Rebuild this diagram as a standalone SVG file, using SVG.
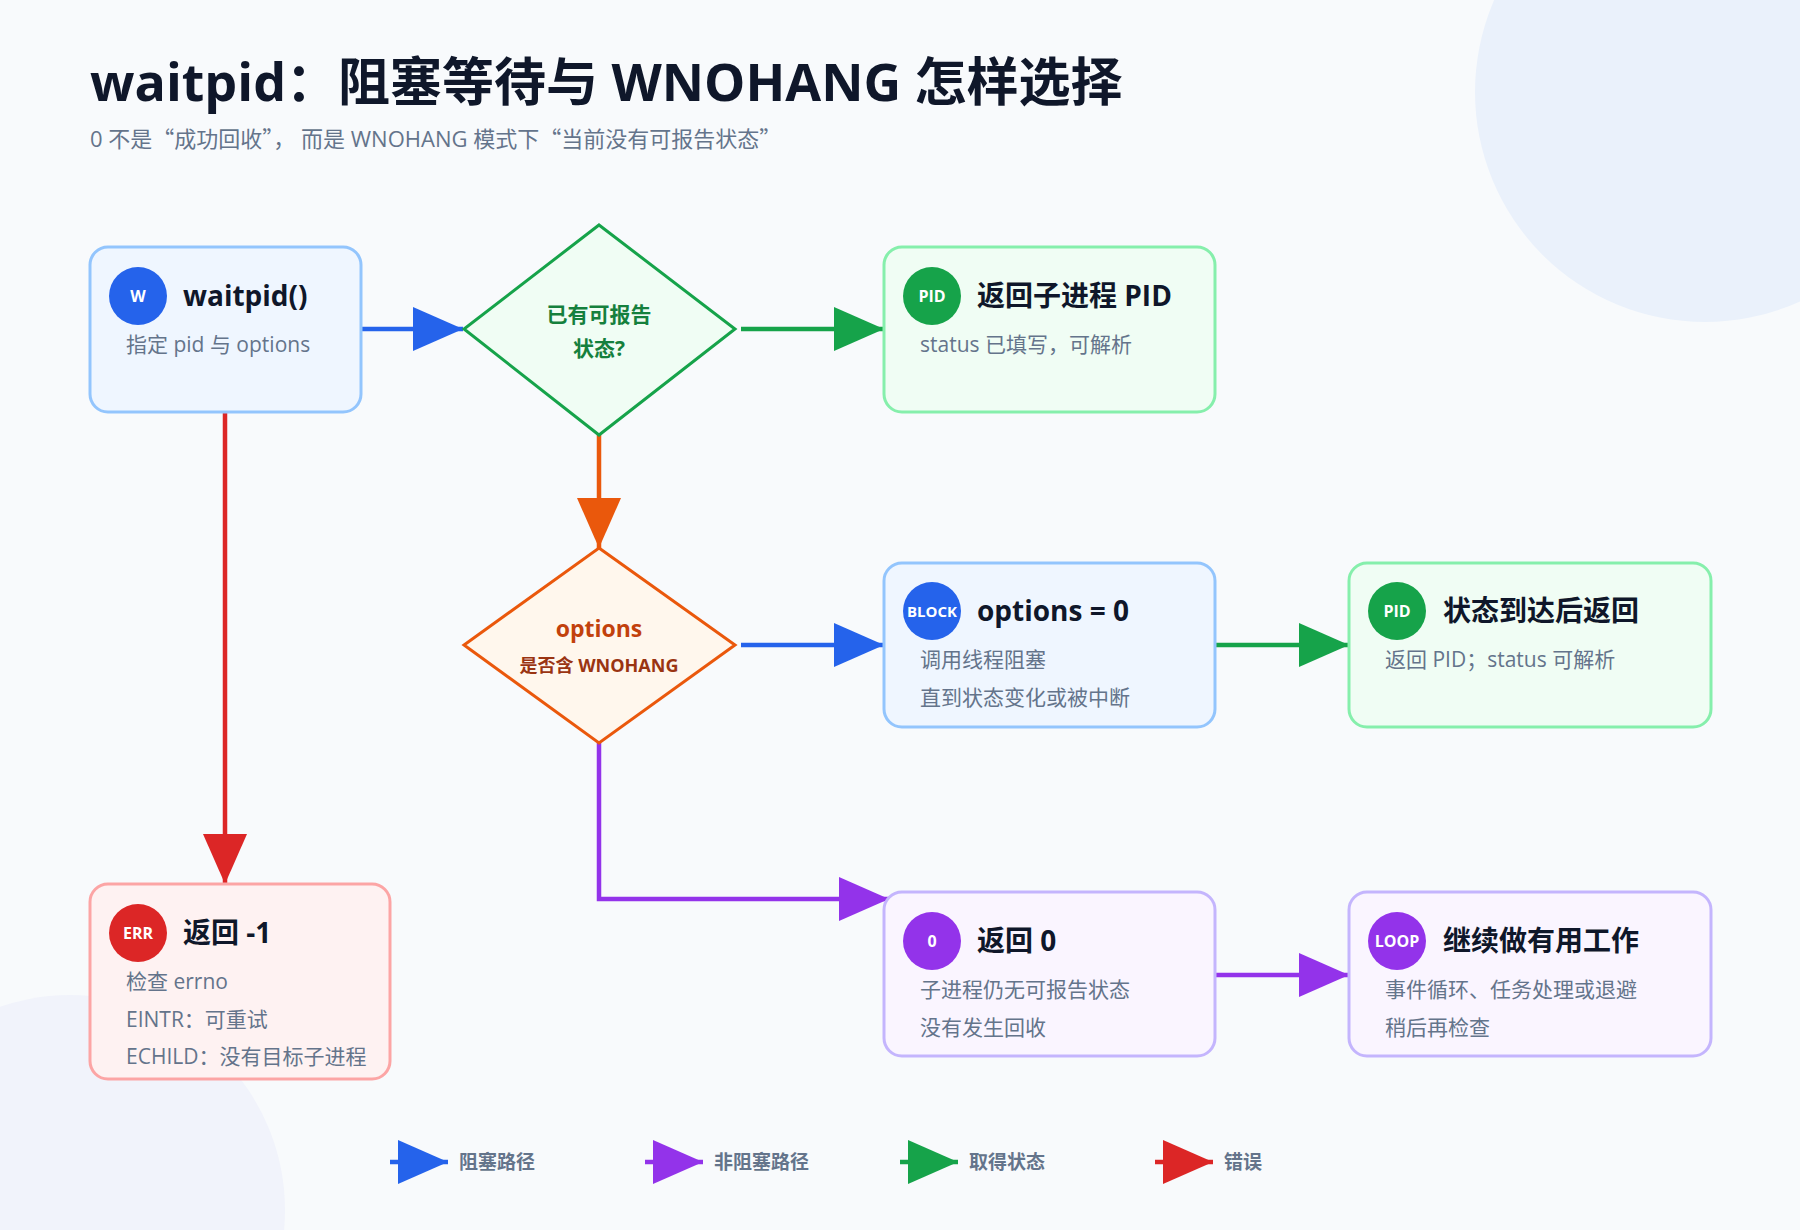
<svg xmlns="http://www.w3.org/2000/svg" width="1800" height="1230" viewBox="0 0 1800 1230">
<defs>
<style>
text{font-family:"Open Sans","Noto Sans CJK SC",sans-serif}
.cjk{font-family:"Noto Sans CJK SC",sans-serif}
.t{font-size:28px;font-weight:700;fill:#0f172a}
.s{font-size:21px;fill:#64748b}
.ic{font-size:16px;font-weight:700;fill:#fff;text-anchor:middle}
.lg{font-size:19px;font-weight:700;fill:#64748b}
.ln{fill:none;stroke-width:4.5}
</style>
<marker id="mb" markerUnits="userSpaceOnUse" markerWidth="52" markerHeight="46" refX="50" refY="23" orient="auto"><path d="M0,1 L50,23 L0,45 z" fill="#2563eb"/></marker>
<marker id="mg" markerUnits="userSpaceOnUse" markerWidth="52" markerHeight="46" refX="50" refY="23" orient="auto"><path d="M0,1 L50,23 L0,45 z" fill="#16a34a"/></marker>
<marker id="mp" markerUnits="userSpaceOnUse" markerWidth="52" markerHeight="46" refX="50" refY="23" orient="auto"><path d="M0,1 L50,23 L0,45 z" fill="#9333ea"/></marker>
<marker id="mr" markerUnits="userSpaceOnUse" markerWidth="52" markerHeight="46" refX="50" refY="23" orient="auto"><path d="M0,1 L50,23 L0,45 z" fill="#dc2626"/></marker>
<marker id="mo" markerUnits="userSpaceOnUse" markerWidth="52" markerHeight="46" refX="50" refY="23" orient="auto"><path d="M0,1 L50,23 L0,45 z" fill="#ea580c"/></marker>
</defs>
<rect width="1800" height="1230" fill="#f8fafc"/>
<circle cx="1705" cy="92" r="230" fill="#eaf1fb"/>
<circle cx="70" cy="1210" r="215" fill="#f1f3fb"/>
<text x="90" y="101" style="font-size:52px;font-weight:700;fill:#0f172a">waitpid：阻塞等待与 WNOHANG 怎样选择</text>
<text x="90" y="147" style="font-size:22px;fill:#64748b">0 不是<tspan class="cjk">“</tspan>成功回收<tspan class="cjk">”</tspan>， 而是 WNOHANG 模式下<tspan class="cjk">“</tspan>当前没有可报告状态<tspan class="cjk">”</tspan></text>

<g id="connectors">
<path class="ln" d="M361,329 H463" stroke="#2563eb" marker-end="url(#mb)"/>
<path class="ln" d="M741,329 H884" stroke="#16a34a" marker-end="url(#mg)"/>
<path class="ln" d="M599,435 V548" stroke="#ea580c" marker-end="url(#mo)"/>
<path class="ln" d="M741,645 H884" stroke="#2563eb" marker-end="url(#mb)"/>
<path class="ln" d="M1215,645 H1349" stroke="#16a34a" marker-end="url(#mg)"/>
<path class="ln" d="M599,743 V899 H889" stroke="#9333ea" marker-end="url(#mp)"/>
<path class="ln" d="M1215,975 H1349" stroke="#9333ea" marker-end="url(#mp)"/>
<path class="ln" d="M225,412 V884" stroke="#dc2626" marker-end="url(#mr)"/>
</g>

<g id="n-waitpid">
<rect x="90" y="247" width="271" height="165" rx="18" fill="#eff6ff" stroke="#93c5fd" stroke-width="3"/>
<circle cx="138" cy="296" r="29" fill="#2563eb"/><text x="138" y="302" class="ic">W</text>
<text x="183" y="306" class="t">waitpid()</text>
<text x="126" y="352" class="s">指定 pid 与 options</text>
</g>
<g id="d-has">
<path d="M599,225 L735,329 L599,435 L464,329 Z" fill="#f0fdf4" stroke="#16a34a" stroke-width="3"/>
<text x="599" y="322" text-anchor="middle" style="font-size:21px;font-weight:700;fill:#15803d">已有可报告</text>
<text x="599" y="356" text-anchor="middle" style="font-size:21px;font-weight:700;fill:#15803d">状态?</text>
</g>
<g id="n-pid">
<rect x="884" y="247" width="331" height="165" rx="18" fill="#f0fdf4" stroke="#86efac" stroke-width="3"/>
<circle cx="932" cy="296" r="29" fill="#16a34a"/><text x="932" y="302" class="ic">PID</text>
<text x="977" y="306" class="t">返回子进程 PID</text>
<text x="920" y="352" class="s">status 已填写，可解析</text>
</g>
<g id="d-opt">
<path d="M599,548 L735,645 L599,743 L464,645 Z" fill="#fff7ed" stroke="#ea580c" stroke-width="3"/>
<text x="599" y="637" text-anchor="middle" style="font-size:23px;font-weight:700;fill:#c2410c">options</text>
<text x="599" y="672" text-anchor="middle" style="font-size:18px;font-weight:700;fill:#9a3412">是否含 WNOHANG</text>
</g>
<g id="n-block">
<rect x="884" y="563" width="331" height="164" rx="18" fill="#eff6ff" stroke="#93c5fd" stroke-width="3"/>
<circle cx="932" cy="611" r="29" fill="#2563eb"/><text x="932" y="617" class="ic" style="font-size:15px">BLOCK</text>
<text x="977" y="621" class="t">options = 0</text>
<text x="920" y="667" class="s">调用线程阻塞</text>
<text x="920" y="705" class="s">直到状态变化或被中断</text>
</g>
<g id="n-pid2">
<rect x="1349" y="563" width="362" height="164" rx="18" fill="#f0fdf4" stroke="#86efac" stroke-width="3"/>
<circle cx="1397" cy="611" r="29" fill="#16a34a"/><text x="1397" y="617" class="ic">PID</text>
<text x="1443" y="621" class="t">状态到达后返回</text>
<text x="1385" y="667" class="s">返回 PID；status 可解析</text>
</g>
<g id="n-zero">
<rect x="884" y="892" width="331" height="164" rx="18" fill="#faf5ff" stroke="#c4b5fd" stroke-width="3"/>
<circle cx="932" cy="941" r="29" fill="#9333ea"/><text x="932" y="947" class="ic">0</text>
<text x="977" y="951" class="t">返回 0</text>
<text x="920" y="997" class="s">子进程仍无可报告状态</text>
<text x="920" y="1035" class="s">没有发生回收</text>
</g>
<g id="n-loop">
<rect x="1349" y="892" width="362" height="164" rx="18" fill="#faf5ff" stroke="#c4b5fd" stroke-width="3"/>
<circle cx="1397" cy="941" r="29" fill="#9333ea"/><text x="1397" y="947" class="ic">LOOP</text>
<text x="1443" y="951" class="t">继续做有用工作</text>
<text x="1385" y="997" class="s">事件循环、任务处理或退避</text>
<text x="1385" y="1035" class="s">稍后再检查</text>
</g>
<g id="n-err">
<rect x="90" y="884" width="300" height="195" rx="18" fill="#fef2f2" stroke="#fca5a5" stroke-width="3"/>
<circle cx="138" cy="933" r="29" fill="#dc2626"/><text x="138" y="939" class="ic">ERR</text>
<text x="183" y="943" class="t">返回 -1</text>
<text x="126" y="989" class="s">检查 errno</text>
<text x="126" y="1027" class="s">EINTR：可重试</text>
<text x="126" y="1064" class="s">ECHILD：没有目标子进程</text>
</g>

<g id="legend">
<path class="ln" d="M390,1162 H448" stroke="#2563eb" marker-end="url(#mb)"/>
<text x="459" y="1169" class="lg">阻塞路径</text>
<path class="ln" d="M645,1162 H703" stroke="#9333ea" marker-end="url(#mp)"/>
<text x="714" y="1169" class="lg">非阻塞路径</text>
<path class="ln" d="M900,1162 H958" stroke="#16a34a" marker-end="url(#mg)"/>
<text x="969" y="1169" class="lg">取得状态</text>
<path class="ln" d="M1155,1162 H1213" stroke="#dc2626" marker-end="url(#mr)"/>
<text x="1224" y="1169" class="lg">错误</text>
</g>
</svg>
